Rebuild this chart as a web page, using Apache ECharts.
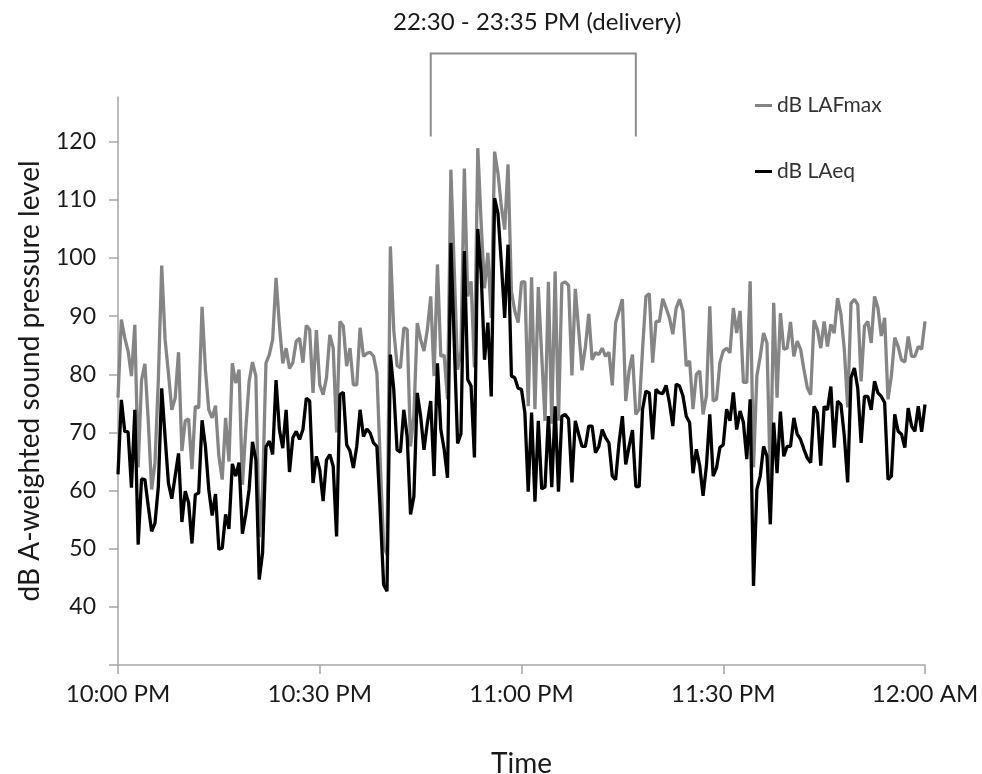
<!DOCTYPE html>
<html><head><meta charset="utf-8">
<script src="https://cdn.jsdelivr.net/npm/echarts@6/dist/echarts.min.js"></script>
<style>html,body{margin:0;padding:0;background:#fff}#c{width:982px;height:774px}</style>
</head><body><div id="c"></div>
<script>
// tick labels shown on the time axis (every 60 samples = 30 min)
const tickLabels = ['10:00 PM', '10:30 PM', '11:00 PM', '11:30 PM', '12:00 AM'];
const yTickValues = [30, 40, 50, 60, 70, 80, 90, 100, 110, 120];
const yLabelValues = [40, 50, 60, 70, 80, 90, 100, 110, 120];

// dB LAeq, one value every 30 s from 22:00 to 24:00
const laeq = [
62.8,75.6,70.2,70.1,60.5,73.9,50.7,62,61.9,57.3,53,54.4,60.7,77.6,69.3,61.3,58.6,62.5,66.4,54.6,
59.9,57.9,50.9,59.3,59.6,72.1,67.6,60.2,55.7,59.4,49.9,50.1,55.9,53.4,64.6,62.5,64.8,52.6,55.9,60.2,
68.4,65.3,44.7,49.3,67.5,68.5,66.2,79,70.5,67.3,73.9,63.2,69.1,70.2,68.8,70.5,75.9,75.4,61.3,65.9,
63.6,58.2,65.3,66.2,64.2,52.1,76.5,76.9,67.9,66.8,63.9,67.6,73.9,69.3,70.6,69.9,68.2,67.6,56.2,43.8,
42.7,83.4,77.4,67,66.6,73.9,69.3,55.9,59,76.8,72.8,67,71.6,75.4,62.5,81.9,70.5,67.1,62.2,102.6,
85.3,68.1,69.8,101.2,79.1,78,65.7,105,97.4,82.5,88.9,76.2,110.3,107.7,99.2,89.7,102.3,79.7,79.4,77.6,
77.4,73.4,59.8,73.4,58.1,72,60.3,60.6,72.8,60.6,74.5,59.8,72.8,73.1,72.3,61.4,72,69.7,67.6,67.6,
71.1,71.1,66.5,67.6,70.5,69.1,68.2,62.5,61.9,68.2,72.8,64.5,67.6,70.4,60.7,60.7,74,77.1,76.8,68.8,
77.4,76.8,76.7,78.1,75.1,71.1,78.3,78,76.3,72.8,71.7,63,67.1,64.3,59.1,64.3,73.1,62.5,63.9,67.4,
67.9,74,72,76.9,70.5,73.7,71.7,65.4,75.7,43.6,60.2,62.5,67.6,65.9,54.2,71.7,63,73.6,65.9,67.6,
67.6,72.5,69.7,68.8,67.1,65.6,64.8,74.5,73.4,64.3,74.5,73.9,77.9,67.4,75.4,74.8,69.4,61.4,79.4,81.1,
77.6,68.2,76.2,76.2,73.9,78.8,76.8,76.2,75.1,61.9,62.5,73.1,70.2,69.7,67.4,74.2,71.1,70.2,74.5,70.1,
74.8];

// dB LAFmax, same sampling
const lafmax = [
76,89.4,86.3,84,79.7,88.5,64,79,81.8,72,60.2,64.8,79.1,98.7,86,80.2,73.9,75.9,83.8,66.8,
72,72.3,63.7,74.5,74.2,91.6,80.8,73.9,72.5,74.6,65.9,61.9,72.5,65,81.9,78.5,80.8,61,70.5,78.8,
82.1,79.7,52,60,81.9,83.4,86,96.6,88.5,81.9,84.5,81,82,85.7,86.2,82,88.4,87.7,76.8,87.6,
78.2,76.5,79.4,86.8,84.5,70,89.1,88.3,81.4,84.5,78.2,78.2,88,83.1,83.6,83.8,83.1,80.2,64.8,50.4,
49,102,87.7,81.5,81.1,88,87.7,67.6,73,88.8,86,84,87.7,93.4,79.7,98.9,83.1,83.3,75.7,115.2,
98,80.8,84,115.4,93.4,96,81.2,118.9,106,94.8,100.9,89.7,118.3,114.6,108.9,104.9,116.1,94.3,90.9,88.9,
95.9,95.9,74.5,96.7,74,95,83.4,72,95.9,71.5,97.7,72,95.6,95.9,95.3,79.8,94.7,87.6,80.7,84.7,
90.4,82.5,83.7,83.4,84.5,83.1,83.8,78.1,88.9,90.9,92.9,75.4,80.6,83.4,73.1,74,84.3,93.4,93.9,82,
89.1,89.1,93,91.4,89.7,86.9,91.4,92.9,90.9,81.4,82.3,74,80,80.6,73.1,76.3,91.7,75.4,75.7,82,
84,84.5,83.7,91.4,87.1,90.9,78.6,78.6,96,64,79.7,83.1,87.1,85.4,61.4,92.3,76,90.5,84.3,84.5,
89,83.1,85.7,84.3,80.8,77.7,76.5,89.3,87.7,84.5,89.1,84.8,88.6,87.1,93.1,90.3,84.3,74.3,92.2,92.9,
92,78.8,88.3,89.1,85.4,93.4,91.4,86.6,89.7,75.7,79.7,86.3,84.8,82.5,82.1,86.5,83.1,83.1,84.8,84.3,
89.1];

// sample times (category axis)
const times = laeq.map(function (_, i) {
  const sec = 22 * 3600 + i * 30;
  const h = Math.floor(sec / 3600) % 24, m = Math.floor(sec % 3600 / 60), s = sec % 60;
  return [h, m, s].map(function (v) { return String(v).padStart(2, '0'); }).join(':');
});

const FONT = 'Lato';
const AXIS_COLOR = '#a6a6a6';
const TEXT_COLOR = '#1a1a1a';
const chart = echarts.init(document.getElementById('c'), null, { renderer: 'canvas' });
chart.setOption({
  backgroundColor: '#ffffff',
  animation: false,
  textStyle: { fontFamily: FONT },
  title: {
    text: '22:30 - 23:35 PM (delivery)',
    left: 388, top: 5,
    textStyle: { fontFamily: FONT, fontSize: 24, fontWeight: 'normal', color: TEXT_COLOR }
  },
  legend: {
    orient: 'vertical', left: 750, top: 90, itemGap: 45,
    icon: 'rect', itemWidth: 17, itemHeight: 3,
    textStyle: { fontFamily: FONT, fontSize: 21, color: '#333' },
    data: ['dB LAFmax', 'dB LAeq']
  },
  grid: { left: 118, right: 57, top: 97, bottom: 109, containLabel: false, outerBoundsMode: 'none' },
  xAxis: {
    type: 'category', data: times, boundaryGap: false,
    name: 'Time', nameLocation: 'middle', nameGap: 85,
    nameTextStyle: { fontFamily: FONT, fontSize: 28, color: TEXT_COLOR },
    axisLine: { lineStyle: { color: AXIS_COLOR, width: 1.5 } },
    axisTick: { interval: 59, length: 9, lineStyle: { color: AXIS_COLOR, width: 1.5 } },
    axisLabel: {
      interval: 59, margin: 17, fontFamily: FONT, fontSize: 24, color: TEXT_COLOR,
      formatter: function (v, idx) { return tickLabels[Math.round(idx / 60)] || ''; }
    },
    splitLine: { show: false }
  },
  yAxis: {
    type: 'value', min: 30, max: 127.7,
    name: 'dB A-weighted sound pressure level', nameLocation: 'middle', nameGap: 74,
    nameTextStyle: { fontFamily: FONT, fontSize: 28, color: TEXT_COLOR },
    axisLine: { show: true, lineStyle: { color: AXIS_COLOR, width: 1.5 } },
    axisTick: { show: true, length: 9, customValues: yTickValues, lineStyle: { color: AXIS_COLOR, width: 1.5 } },
    axisLabel: { customValues: yLabelValues, margin: 22, fontFamily: FONT, fontSize: 23, color: TEXT_COLOR },
    splitLine: { show: false }
  },
  series: [
    { name: 'dB LAFmax', type: 'line', data: lafmax, showSymbol: false, symbol: 'none',
      lineStyle: { color: '#858585', width: 3.3 }, itemStyle: { color: '#858585' }, z: 2 },
    { name: 'dB LAeq', type: 'line', data: laeq, showSymbol: false, symbol: 'none',
      lineStyle: { color: '#000000', width: 3.3 }, itemStyle: { color: '#000000' }, z: 3 }
  ]
});

// delivery bracket, positioned through the axes
const bx0 = chart.convertToPixel({ xAxisIndex: 0 }, 93.4);
const bx1 = chart.convertToPixel({ xAxisIndex: 0 }, 154.0);
const byTop = chart.convertToPixel({ yAxisIndex: 0 }, 135.2);
const byBot = chart.convertToPixel({ yAxisIndex: 0 }, 120.9);
chart.setOption({
  graphic: [{
    type: 'polyline',
    shape: { points: [[bx0, byBot], [bx0, byTop], [bx1, byTop], [bx1, byBot]] },
    style: { stroke: '#8c8c8c', lineWidth: 2, fill: null }
  }]
});
</script>
</body></html>
